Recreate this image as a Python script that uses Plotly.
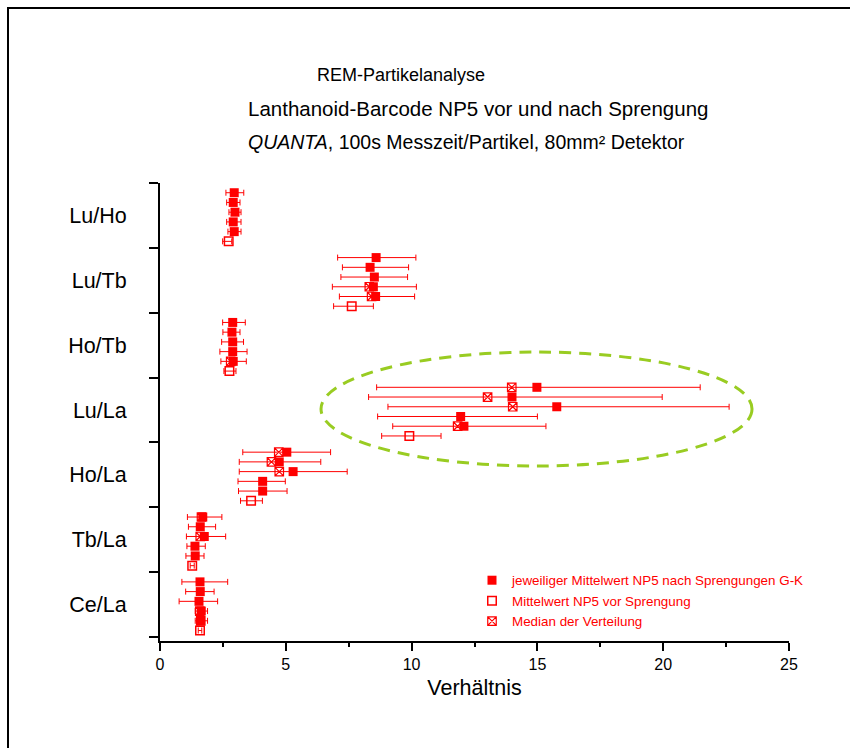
import plotly.graph_objects as go

# ---------------- data ----------------
categories = ["Lu/Ho", "Lu/Tb", "Ho/Tb", "Lu/La", "Ho/La", "Tb/La", "Ce/La"]

# mean after blasting (5 rows per category, G-K)
after_mean = [
    [2.95, 2.91, 2.98, 2.91, 2.95],
    [8.59, 8.35, 8.52, 8.48, 8.57],
    [2.89, 2.86, 2.89, 2.89, 2.91],
    [14.98, 13.99, 15.77, 11.95, 12.08],
    [5.04, 4.74, 5.29, 4.08, 4.08],
    [1.70, 1.60, 1.76, 1.39, 1.40],
    [1.59, 1.60, 1.55, 1.64, 1.61],
]
after_low = [
    [2.62, 2.65, 2.74, 2.65, 2.70],
    [7.06, 7.25, 7.19, 6.85, 7.13],
    [2.49, 2.50, 2.45, 2.38, 2.42],
    [8.61, 8.29, 9.06, 8.65, 9.25],
    [3.29, 3.15, 3.15, 3.10, 3.12],
    [1.09, 1.13, 1.05, 1.07, 1.03],
    [0.87, 1.02, 0.76, 1.40, 1.40],
]
after_high = [
    [3.33, 3.18, 3.22, 3.22, 3.22],
    [10.17, 9.88, 9.84, 10.19, 10.12],
    [3.39, 3.18, 3.32, 3.46, 3.43],
    [21.47, 19.96, 22.62, 15.00, 15.34],
    [6.78, 6.39, 7.44, 4.98, 5.05],
    [2.46, 2.21, 2.61, 1.80, 1.75],
    [2.69, 2.15, 2.29, 1.89, 1.89],
]

# mean before blasting (one row per category)
before_mean = [2.73, 7.62, 2.76, 9.91, 3.62, 1.28, 1.59]
before_low = [2.49, 6.90, 2.54, 8.81, 3.20, 1.20, 1.52]
before_high = [2.85, 8.48, 3.02, 11.17, 4.07, 1.36, 1.66]

# medians of the distributions
median_cat = ["Lu/Tb", "Lu/Tb", "Ho/Tb", "Lu/La", "Lu/La", "Lu/La", "Lu/La",
              "Ho/La", "Ho/La", "Ho/La", "Tb/La", "Tb/La", "Ce/La", "Ce/La"]
median_row = [3, 4, 4, 0, 1, 2, 4, 0, 1, 2, 0, 2, 3, 4]
median_val = [8.32, 8.41, 2.81, 13.98, 13.02, 14.02, 11.83,
              4.72, 4.43, 4.74, 1.65, 1.60, 1.58, 1.62]

x_ticks = [0, 5, 10, 15, 20, 25]

# ---------------- helpers ----------------
N = len(categories)


def ypos(cat, row):
    c = N - 1 - categories.index(cat)
    return c + 1 - 0.15 * (row + 1)


RED = "#ff0000"
FONT = "Liberation Sans, Arial, Helvetica, sans-serif"

# filled means
fx, fy, fp, fm = [], [], [], []
for i, cat in enumerate(categories):
    for r in range(5):
        m = after_mean[i][r]
        fx.append(m)
        fy.append(ypos(cat, r))
        fp.append(after_high[i][r] - m)
        fm.append(m - after_low[i][r])

# open means
ox, oy, op, om = [], [], [], []
for i, cat in enumerate(categories):
    m = before_mean[i]
    ox.append(m)
    oy.append(ypos(cat, 5))
    op.append(before_high[i] - m)
    om.append(m - before_low[i])

mx = list(median_val)
my = [ypos(c, r) for c, r in zip(median_cat, median_row)]

fig = go.Figure()

fig.add_trace(go.Scatter(
    x=mx, y=my, mode="markers", name="Median der Verteilung",
    marker=dict(symbol="square-x-open", size=8.5, color=RED, line=dict(width=1.2, color=RED)),
    legendrank=3, hoverinfo="x",
))
fig.add_trace(go.Scatter(
    x=fx, y=fy, mode="markers", name="jeweiliger Mittelwert NP5 nach Sprengungen G-K",
    marker=dict(symbol="square", size=9, color=RED),
    error_x=dict(type="data", symmetric=False, array=fp, arrayminus=fm,
                 color=RED, thickness=1, width=3),
    legendrank=1, hoverinfo="x",
))
fig.add_trace(go.Scatter(
    x=ox, y=oy, mode="markers", name="Mittelwert NP5 vor Sprengung",
    marker=dict(symbol="square-open", size=8.5, color=RED, line=dict(width=1.5, color=RED)),
    error_x=dict(type="data", symmetric=False, array=op, arrayminus=om,
                 color=RED, thickness=1, width=3),
    legendrank=2, hoverinfo="x",
))

# ---------------- layout ----------------
L, R, T, B = 160, 61, 183, 107
W, H = 850, 748
pw, ph = W - L - R, H - T - B


def px_x(px):
    return (px - L) / pw


def px_y(py):
    return (H - B - py) / ph


fig.update_layout(
    width=W, height=H,
    margin=dict(l=L, r=R, t=T, b=B, pad=0),
    paper_bgcolor="white", plot_bgcolor="white",
    font=dict(family=FONT, color="black"),
    showlegend=True,
    legend=dict(
        x=px_x(472), y=px_y(565), xanchor="left", yanchor="top",
        bgcolor="rgba(0,0,0,0)", font=dict(size=13.4, color=RED, family=FONT),
        tracegroupgap=0, itemwidth=30,
    ),
)

fig.update_xaxes(
    range=[0, 25], tickvals=x_ticks, ticktext=[str(v) for v in x_ticks],
    showgrid=False, zeroline=False, showline=True, linecolor="black", linewidth=2,
    ticks="outside", ticklen=8, tickwidth=1.5, tickcolor="black",
    tickfont=dict(size=16, family=FONT),
    minor=dict(tickmode="linear", tick0=0, dtick=2.5, ticks="outside", ticklen=4,
               tickwidth=1.5, tickcolor="black", showgrid=False),
    title=dict(text="Verhältnis", font=dict(size=21.5, family=FONT), standoff=8),
)

fig.update_yaxes(
    range=[-0.0616, 7],
    tickvals=[N - 1 - i + 0.5 for i in range(N)], ticktext=categories,
    showgrid=False, zeroline=False, showline=True, linecolor="black", linewidth=2,
    ticks="", tickfont=dict(size=21.5, family=FONT), ticklabelstandoff=27,
    minor=dict(tickmode="array", tickvals=list(range(N + 1)), ticks="outside",
               ticklen=9, tickwidth=2, tickcolor="black", showgrid=False),
)

# ellipse highlighting Lu/La
fig.add_shape(
    type="circle", xref="x", yref="y",
    x0=6.40, x1=23.53, y0=2.637, y1=4.394,
    line=dict(color="#99cc22", width=3, dash="12px,8px"),
    fillcolor="rgba(0,0,0,0)", layer="above",
)

# outer frame (left and top edges visible in the picture)
fig.add_shape(type="line", xref="paper", yref="paper",
              x0=px_x(8), x1=px_x(8), y0=px_y(748), y1=px_y(8),
              line=dict(color="black", width=2))
fig.add_shape(type="line", xref="paper", yref="paper",
              x0=px_x(7), x1=px_x(850), y0=px_y(8), y1=px_y(8),
              line=dict(color="black", width=2))

# titles
fig.add_annotation(x=px_x(401), y=px_y(75), xref="paper", yref="paper",
                   text="REM-Partikelanalyse", showarrow=False,
                   font=dict(size=18, family=FONT), xanchor="center", yanchor="middle")
fig.add_annotation(x=px_x(478), y=px_y(108), xref="paper", yref="paper",
                   text="Lanthanoid-Barcode NP5 vor und nach Sprengung", showarrow=False,
                   font=dict(size=20.5, family=FONT), xanchor="center", yanchor="middle")
fig.add_annotation(x=px_x(466), y=px_y(142), xref="paper", yref="paper",
                   text="<i>QUANTA</i>, 100s Messzeit/Partikel, 80mm² Detektor", showarrow=False,
                   font=dict(size=19.5, family=FONT), xanchor="center", yanchor="middle")

fig.write_html("out.html")
